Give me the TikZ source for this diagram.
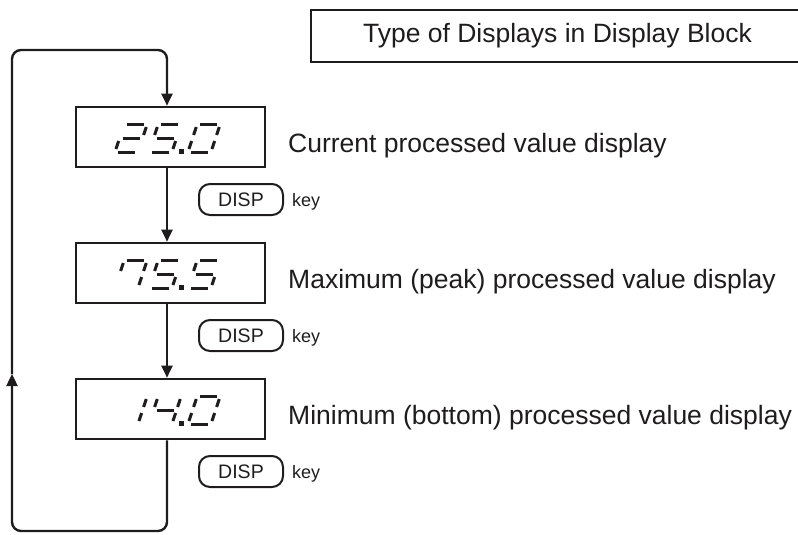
\documentclass[tikz,border=0pt]{standalone}
\usepackage{fontspec}
\setmainfont{Liberation Sans}
\usetikzlibrary{arrows.meta}
\definecolor{ink}{RGB}{30,28,28}
\tikzset{
  conn/.style={draw=ink, line width=2.4pt},
  flow/.style={conn, -{Triangle[length=12pt,width=11pt]}},
  dispbox/.style={draw=ink, line width=2.6pt, minimum width=189pt, minimum height=60pt, inner sep=0pt},
  keybox/.style={draw=ink, line width=2pt, rounded corners=11pt, minimum width=84pt, minimum height=31pt, inner sep=0pt, font=\fontsize{19.5}{22}\selectfont, text=ink},
  keylbl/.style={anchor=base west, inner sep=0pt, font=\fontsize{18}{21}\selectfont, text=ink},
  lbl/.style={anchor=base west, inner sep=0pt, font=\fontsize{26.5}{30}\selectfont, text=ink},
  segline/.style={draw=ink, line width=3pt},
}
\def\segpa{(3,28) -- (20,28)}
\def\segpb{(23,25) -- (23,17)}
\def\segpc{(23,11) -- (23,3)}
\def\segpd{(3,0) -- (20,0)}
\def\segpe{(0,3) -- (0,11)}
\def\segpf{(0,17) -- (0,25)}
\def\segpg{(3,14) -- (20,14)}
\newcommand{\segdraw}[1]{\draw[segline] #1;}
\newcommand{\segdigit}[3]{%
  \begin{scope}[shift={(#1,#2)}, cm={1,0,-0.33,-1,(0,0)}]
    \foreach \s in {#3}{\expandafter\segdraw\csname segp\s\endcsname}
  \end{scope}}
\newcommand{\segdot}[2]{\fill[ink] (#1-2.5,#2+1.5) rectangle (#1+2.5,#2-3.5);}
\newcommand{\readout}[5]{% baseline y, digit1, digit2, digit3
  \segdigit{115}{#1}{#2}\segdigit{149}{#1}{#3}\segdot{181}{#1}\segdigit{188}{#1}{#4}}
\begin{document}
\begin{tikzpicture}[x=1pt,y=-1pt]
\useasboundingbox (0,0) rectangle (798,535);
% title box (open to the right edge)
\draw[conn] (798,10) -- (311,10) -- (311,62) -- (798,62);
\node[anchor=base, inner sep=0pt, font=\fontsize{26.5}{30}\selectfont, text=ink] (title) at (557.5,43) {Type of Displays in Display Block};
% display boxes
\node[dispbox] (d1) at (170.5,137) {};
\node[dispbox] (d2) at (170.5,273) {};
\node[dispbox] (d3) at (170.5,409) {};
% readouts
\readout{152}{a,b,g,e,d}{a,f,g,c,d}{a,b,c,d,e,f}{}
\readout{288}{a,b,c,f}{a,f,g,c,d}{a,f,g,c,d}{}
\readout{424}{b,c}{f,g,b,c}{a,b,c,d,e,f}{}
% labels
\node[lbl] (l1) at (288,152) {Current processed value display};
\node[lbl] (l2) at (288,288) {Maximum (peak) processed value display};
\node[lbl] (l3) at (288,424) {Minimum (bottom) processed value display};
% keys
\node[keybox] (k1) at (241,199.5) {DISP};
\node[keybox] (k2) at (241,335.5) {DISP};
\node[keybox] (k3) at (241,471.5) {DISP};
\node[keylbl] (kl1) at (292,206) {key};
\node[keylbl] (kl2) at (292,342) {key};
\node[keylbl] (kl3) at (292,478) {key};
% flow
\coordinate (lx) at (167,0);
\coordinate (bl) at (12,531);
\coordinate (br) at (167,531);
\coordinate (tl) at (12,50);
\coordinate (tr) at (167,50);
\coordinate (mid) at (12,374);
\draw[flow] (d1.south -| lx) -- (d2.north -| lx);
\draw[flow] (d2.south -| lx) -- (d3.north -| lx);
\draw[flow, rounded corners=9pt] (d3.south -| lx) -- (br) -- (bl) -- (mid);
\draw[flow, rounded corners=9pt] (mid) -- (tl) -- (tr) -- (d1.north -| lx);
\end{tikzpicture}
\end{document}
